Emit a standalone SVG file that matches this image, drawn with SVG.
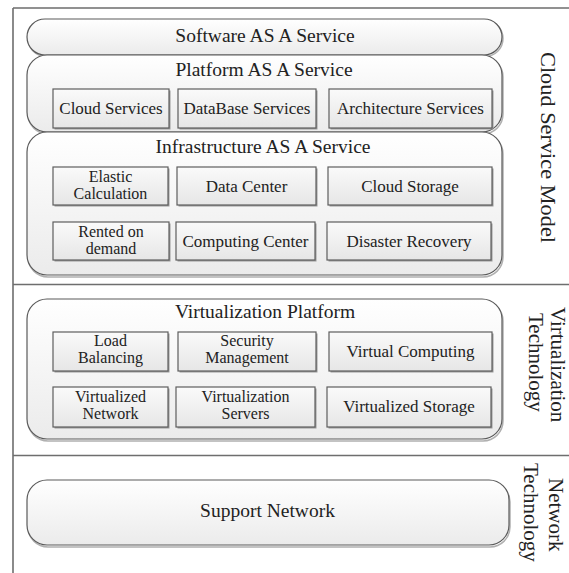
<svg xmlns="http://www.w3.org/2000/svg" width="569" height="573" viewBox="0 0 569 573" font-family="'Liberation Serif', 'DejaVu Serif', serif">
<defs>
<linearGradient id="gOuter" x1="0" y1="0" x2="0" y2="1">
<stop offset="0" stop-color="#ffffff"/>
<stop offset="1" stop-color="#ebebeb"/>
</linearGradient>
<linearGradient id="gInner" x1="0" y1="0" x2="0" y2="1">
<stop offset="0" stop-color="#fafafa"/>
<stop offset="1" stop-color="#e6e6e6"/>
</linearGradient>
<style>
.frame{stroke:#6e6e6e;stroke-width:1.6;fill:none}
.outer{fill:url(#gOuter);stroke:#5a5a5a;stroke-width:1.2}
.oshadow{fill:none;stroke:#b0b0b0;stroke-width:1.5}
.inner{fill:url(#gInner);stroke:#5e5e5e;stroke-width:1.2}
.ishadow{fill:#9a9a9a}
text{font-family:'Liberation Serif','DejaVu Serif',serif;fill:#222}
.title{font-size:19.5px;text-anchor:middle}
.lbl{font-size:17px;text-anchor:middle}
.lbl2{font-size:16px;text-anchor:middle}
.side{font-size:21px}
</style>
</defs>
<rect width="569" height="573" fill="#ffffff"/>
<g id="frame">
<path class="frame" d="M13,8 H569 M13,8 V573 M13,284.5 H569 M13,455.5 H569"/>
</g>
<g id="connectors"></g>

<g id="saas">
<rect class="oshadow" x="28" y="20.5" width="475" height="36" rx="18"/>
<rect class="outer" x="27" y="19" width="475" height="36" rx="18"/>
<text class="title" x="265" y="42">Software AS A Service</text>
</g>

<g id="paas">
<rect class="oshadow" x="28" y="57" width="475" height="77" rx="20"/>
<rect class="outer" x="27" y="55" width="475" height="77" rx="20"/>
<text class="title" x="264" y="76">Platform AS A Service</text>
</g>
<g id="cloud-services">
<rect class="ishadow" x="54.5" y="90.5" width="116" height="39"/>
<rect class="inner" x="53" y="89" width="116" height="39"/>
<text class="lbl" x="111" y="114">Cloud Services</text>
</g>
<g id="database-services">
<rect class="ishadow" x="179.5" y="90.5" width="138" height="39"/>
<rect class="inner" x="178" y="89" width="138" height="39"/>
<text class="lbl" x="247" y="114">DataBase Services</text>
</g>
<g id="architecture-services">
<rect class="ishadow" x="330.5" y="90.5" width="163" height="39"/>
<rect class="inner" x="329" y="89" width="163" height="39"/>
<text class="lbl" x="410.5" y="114">Architecture Services</text>
</g>

<g id="iaas">
<rect class="oshadow" x="28" y="134" width="475" height="143" rx="20"/>
<rect class="outer" x="27" y="132" width="475" height="143" rx="20"/>
<text class="title" x="263" y="153">Infrastructure AS A Service</text>
</g>
<g id="elastic-calculation">
<rect class="ishadow" x="54.5" y="168.5" width="115" height="38"/>
<rect class="inner" x="53" y="167" width="115" height="38"/>
<text class="lbl2" x="110.5" y="181.5">Elastic</text>
<text class="lbl2" x="110.5" y="199">Calculation</text>
</g>
<g id="data-center">
<rect class="ishadow" x="178.5" y="168.5" width="139" height="38"/>
<rect class="inner" x="177" y="167" width="139" height="38"/>
<text class="lbl" x="246.5" y="191.5">Data Center</text>
</g>
<g id="cloud-storage">
<rect class="ishadow" x="329.5" y="168.5" width="164" height="38"/>
<rect class="inner" x="328" y="167" width="164" height="38"/>
<text class="lbl" x="410" y="191.5">Cloud Storage</text>
</g>
<g id="rented-on-demand">
<rect class="ishadow" x="54.5" y="223.5" width="116" height="38"/>
<rect class="inner" x="53" y="222" width="116" height="38"/>
<text class="lbl2" x="111" y="236.5">Rented on</text>
<text class="lbl2" x="111" y="254">demand</text>
</g>
<g id="computing-center">
<rect class="ishadow" x="177.5" y="223.5" width="139" height="38"/>
<rect class="inner" x="176" y="222" width="139" height="38"/>
<text class="lbl" x="245.5" y="246.5">Computing Center</text>
</g>
<g id="disaster-recovery">
<rect class="ishadow" x="328.5" y="223.5" width="164" height="38"/>
<rect class="inner" x="327" y="222" width="164" height="38"/>
<text class="lbl" x="409" y="246.5">Disaster Recovery</text>
</g>

<g id="virtualization-platform">
<rect class="oshadow" x="28" y="301" width="475" height="140" rx="20"/>
<rect class="outer" x="27" y="299" width="475" height="140" rx="20"/>
<text class="title" x="265" y="318">Virtualization Platform</text>
</g>
<g id="load-balancing">
<rect class="ishadow" x="54.5" y="333.5" width="115" height="39"/>
<rect class="inner" x="53" y="332" width="115" height="39"/>
<text class="lbl2" x="110.5" y="345.5">Load</text>
<text class="lbl2" x="110.5" y="363">Balancing</text>
</g>
<g id="security-management">
<rect class="ishadow" x="179.5" y="333.5" width="138" height="39"/>
<rect class="inner" x="178" y="332" width="138" height="39"/>
<text class="lbl2" x="247" y="345.5">Security</text>
<text class="lbl2" x="247" y="363">Management</text>
</g>
<g id="virtual-computing">
<rect class="ishadow" x="330.5" y="333.5" width="163" height="39"/>
<rect class="inner" x="329" y="332" width="163" height="39"/>
<text class="lbl" x="410.5" y="357">Virtual Computing</text>
</g>
<g id="virtualized-network">
<rect class="ishadow" x="54.5" y="388.5" width="115" height="40"/>
<rect class="inner" x="53" y="387" width="115" height="40"/>
<text class="lbl2" x="110.5" y="401.5">Virtualized</text>
<text class="lbl2" x="110.5" y="419">Network</text>
</g>
<g id="virtualization-servers">
<rect class="ishadow" x="177.5" y="388.5" width="139" height="40"/>
<rect class="inner" x="176" y="387" width="139" height="40"/>
<text class="lbl2" x="245.5" y="401.5">Virtualization</text>
<text class="lbl2" x="245.5" y="419">Servers</text>
</g>
<g id="virtualized-storage">
<rect class="ishadow" x="328.5" y="388.5" width="164" height="40"/>
<rect class="inner" x="327" y="387" width="164" height="40"/>
<text class="lbl" x="409" y="412">Virtualized Storage</text>
</g>

<g id="support-network">
<rect class="oshadow" x="28" y="482" width="482" height="65" rx="20"/>
<rect class="outer" x="27" y="480" width="482" height="65" rx="20"/>
<text class="title" x="267.5" y="517">Support Network</text>
</g>

<g id="label-cloud-service-model">
<text class="side" transform="translate(541,52) rotate(90)" textLength="191" lengthAdjust="spacingAndGlyphs" style="font-size:22px">Cloud Service Model</text>
</g>
<g id="label-virtualization-technology">
<text class="side" transform="translate(551,307) rotate(90)">Virtualization</text>
<text class="side" transform="translate(529,313) rotate(90)">Technology</text>
</g>
<g id="label-network-technology">
<text class="side" transform="translate(549,478) rotate(90)">Network</text>
<text class="side" transform="translate(524,463) rotate(90)">Technology</text>
</g>
</svg>
